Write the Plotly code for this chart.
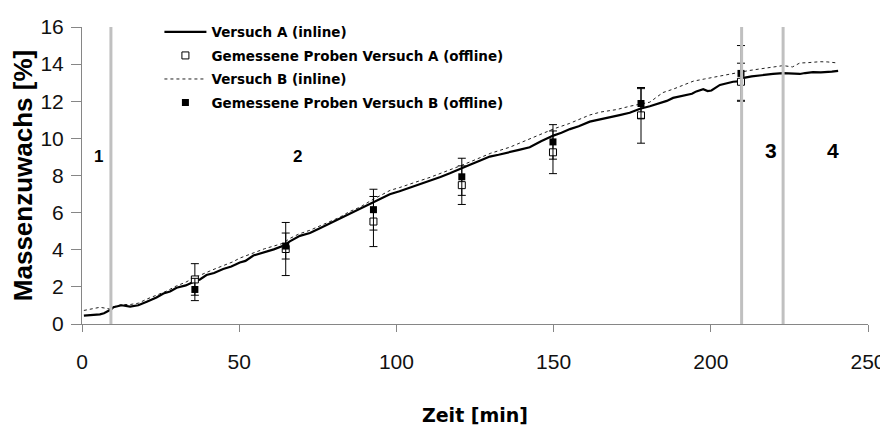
import plotly.graph_objects as go

# ---- Data ----
time_a = [0.6, 3, 5.7, 7, 8.4, 9.2, 10, 12.6, 15.3, 17.9, 20.6, 23.7, 25.9, 28, 30.1, 33, 35.4, 37.5,
          39.6, 42, 44.9, 47.5, 50.2, 52, 54.5, 56.5, 58.7, 61, 64, 66.1, 69.3, 72.5, 75.5, 78.9, 82,
          85.2, 88.5, 91.6, 95, 97.9, 101, 104.3, 107.5, 110.7, 114, 117, 120, 123.4, 126.5, 129.7,
          132.5, 136.1, 139, 142.4, 146, 149.9, 152.5, 155.2, 158, 161.5, 164.5, 167.9, 171, 174.2,
          177.5, 180.6, 183.8, 186, 188, 190, 192.3, 194, 195.4, 196.5, 197.6, 199, 200.2, 202.9, 205,
          207.1, 209.6, 210.5, 213, 215.6, 219.8, 223, 226, 228.3, 230, 232.5, 235, 236.8, 238.5, 240.5]
mass_a = [0.45, 0.48, 0.52, 0.58, 0.70, 0.78, 0.90, 1.01, 0.94, 1.01, 1.20, 1.43, 1.64, 1.75, 1.95, 2.08,
          2.26, 2.40, 2.64, 2.75, 2.96, 3.10, 3.31, 3.40, 3.69, 3.78, 3.90, 4.02, 4.21, 4.45, 4.75, 4.90,
          5.15, 5.43, 5.65, 5.95, 6.18, 6.47, 6.75, 6.99, 7.15, 7.34, 7.52, 7.72, 7.92, 8.12, 8.35, 8.58,
          8.80, 9.02, 9.12, 9.25, 9.38, 9.52, 9.85, 10.15, 10.30, 10.50, 10.65, 10.90, 11.00, 11.13,
          11.25, 11.38, 11.60, 11.73, 11.90, 12.02, 12.18, 12.25, 12.35, 12.40, 12.53, 12.58, 12.65,
          12.55, 12.58, 12.88, 12.95, 13.05, 13.08, 13.26, 13.34, 13.40, 13.47, 13.52, 13.50, 13.47,
          13.52, 13.57, 13.56, 13.57, 13.60, 13.64]

time_b = [0.6, 3, 5.7, 7.5, 9, 10, 12.6, 15.3, 17.9, 20.6, 24, 27, 30, 33, 35.4, 39, 42, 45, 48, 50.2,
          54, 58, 61, 64, 66, 69, 72.5, 76, 79, 82, 85, 88.5, 91.6, 95, 98, 101, 104.3, 107.5, 110.7,
          114, 117, 120, 123.4, 126.5, 130, 136, 140, 145, 150, 155, 161.5, 165, 170, 174.2, 177.5,
          180.6, 183, 184.8, 188, 192, 194.4, 198, 201, 205, 209.6, 212, 215.6, 219.8, 223, 226, 228.3,
          231, 234.7, 237, 240.5]
mass_b = [0.73, 0.80, 0.90, 0.85, 0.80, 0.92, 1.05, 1.05, 1.12, 1.34, 1.58, 1.78, 2.05, 2.25, 2.47, 2.75,
          2.95, 3.15, 3.35, 3.55, 3.80, 4.05, 4.20, 4.35, 4.60, 4.85, 5.05, 5.30, 5.55, 5.75, 6.05, 6.30,
          6.62, 6.95, 7.20, 7.35, 7.52, 7.72, 7.90, 8.10, 8.30, 8.50, 8.73, 8.95, 9.20, 9.52, 9.80, 10.15,
          10.51, 10.80, 11.26, 11.42, 11.55, 11.73, 11.85, 11.95, 12.25, 12.47, 12.65, 12.90, 13.08,
          13.20, 13.30, 13.43, 13.60, 13.65, 13.74, 13.85, 13.92, 13.85, 14.06, 14.08, 14.13, 14.12, 14.06]

sample_time = [35.9, 64.8, 92.7, 120.8, 149.8, 177.8, 209.6]
sample_a = [2.40, 4.04, 5.52, 7.48, 9.25, 11.24, 13.05]
sample_a_err = [0.85, 1.43, 1.35, 1.04, 1.15, 1.50, 1.00]
sample_b = [1.86, 4.20, 6.16, 7.93, 9.81, 11.88, 13.50]
sample_b_err = [0.60, 0.70, 1.10, 1.00, 0.93, 0.80, 1.50]

phase_bounds = [9.2, 209.8, 223]
phase_labels = ["1", "2", "3", "4"]
phase_label_x = [5.1, 68.7, 219, 239]
phase_label_y = [9.0, 9.0, 9.35, 9.35]
phase_label_size = [17, 17, 21, 21]

name_a = "Versuch A (inline)"
name_as = "Gemessene Proben Versuch A (offline)"
name_b = "Versuch B (inline)"
name_bs = "Gemessene Proben Versuch B (offline)"

ARIAL = "Liberation Sans, Arial, sans-serif"
WIDE = "DejaVu Sans, Verdana, sans-serif"

fig = go.Figure()
fig.add_trace(go.Scatter(x=time_b, y=mass_b, mode="lines", name=name_b, legendrank=3, legendgroup="c",
                         line=dict(color="#222222", width=1, dash="3px,3px")))
fig.add_trace(go.Scatter(x=time_a, y=mass_a, mode="lines", name=name_a, legendrank=1, legendgroup="a",
                         line=dict(color="black", width=2.2)))
fig.add_trace(go.Scatter(x=sample_time, y=sample_a, mode="markers", name=name_as, legendrank=2,
                         legendgroup="b",
                         marker=dict(symbol="square", size=7, color="white", line=dict(color="black", width=1)),
                         error_y=dict(type="data", array=sample_a_err, color="black", thickness=1, width=4)))
fig.add_trace(go.Scatter(x=sample_time, y=sample_b, mode="markers", name=name_bs, legendrank=4,
                         legendgroup="d",
                         marker=dict(symbol="square", size=7, color="black", line=dict(color="black", width=0)),
                         error_y=dict(type="data", array=sample_b_err, color="black", thickness=1, width=4)))

for xb in phase_bounds:
    fig.add_shape(type="line", x0=xb, x1=xb, y0=0, y1=16, xref="x", yref="y",
                  line=dict(color="#c0c0c0", width=3), layer="above")

for lab, lx, ly, ls in zip(phase_labels, phase_label_x, phase_label_y, phase_label_size):
    fig.add_annotation(x=lx, y=ly, text="<b>%s</b>" % lab, showarrow=False, xref="x", yref="y",
                       font=dict(family=ARIAL, size=ls, color="black"))

# The page body adds an 8px offset, so the figure is 8px smaller and margins are shifted.
fig.update_layout(
    width=880, height=422,
    margin=dict(l=74, r=20, t=9, b=106),
    paper_bgcolor="white", plot_bgcolor="white",
    font=dict(family=ARIAL, color="black"),
    showlegend=True,
    legend=dict(x=0.0985, y=1.035, xanchor="left", yanchor="top", bgcolor="rgba(0,0,0,0)",
                font=dict(family=WIDE, size=13.5, color="black", weight="bold"),
                traceorder="grouped", tracegroupgap=3, itemwidth=42),
    xaxis=dict(range=[0, 250], tickvals=[0, 50, 100, 150, 200, 250], showgrid=False, zeroline=False,
               showline=True, linecolor="#868686", linewidth=1, ticks="outside", ticklen=7,
               tickcolor="#868686", tickfont=dict(size=21, color="#111"), ticklabelstandoff=12,
               automargin=False,
               title=dict(text="<b>Zeit [min]</b>", font=dict(family=WIDE, size=19, color="black"),
                          standoff=36)),
    yaxis=dict(range=[0, 16], tickvals=[0, 2, 4, 6, 8, 10, 12, 14, 16], showgrid=False, zeroline=False,
               showline=True, linecolor="#868686", linewidth=1, ticks="outside", ticklen=10,
               tickcolor="#868686", tickfont=dict(size=21, color="#111"), ticklabelstandoff=3,
               automargin=False,
               title=dict(text="<b>Massenzuwachs [%]</b>", font=dict(family=ARIAL, size=26, color="black"),
                          standoff=2)),
)

fig.write_html("out.html")
